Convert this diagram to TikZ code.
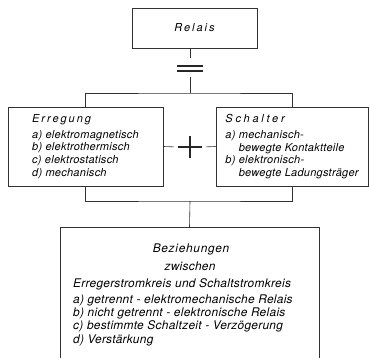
\documentclass[tikz,border=0pt]{standalone}
\usepackage{fontspec}
\setmainfont{TeX Gyre Heros}
\newfontfamily\grotesk[LetterSpace=2.5]{TeX Gyre Heros}
\newfontfamily\gesperrt[LetterSpace=18]{TeX Gyre Heros}
\newfontfamily\weitgesperrt[LetterSpace=25]{TeX Gyre Heros}
\newfontfamily\enggesperrt[LetterSpace=6]{TeX Gyre Heros}
\usetikzlibrary{positioning}
\tikzstyle{linie} = [line width=0.6pt, draw=black!80]
\tikzstyle{balken} = [line width=1.6pt, draw=black!85]
\tikzstyle{kasten} = [rectangle, draw=black!80, line width=0.6pt, inner sep=0pt, align=left]
\tikzstyle{gross} = [font=\grotesk\itshape\fontsize{11.9}{13.3}\selectfont]

\begin{document}
\begin{tikzpicture}[x=1pt, y=-1pt, every node/.style={font=\grotesk\itshape\fontsize{11}{12.7}\selectfont}]
        \useasboundingbox (0,0) rectangle (369,358);
        \node (relais) [kasten, minimum width=125pt, minimum height=40pt] at (194.5,28) {\gesperrt\itshape Relais};
        \node (gleich) [minimum width=26pt, minimum height=5pt, inner sep=0pt] at (190,68.5) {};
        \draw [balken] (gleich.north west) -- (gleich.north east);
        \draw [balken] (gleich.south west) -- (gleich.south east);
        \coordinate (oben) at (190,93);
        \node (erregung) [kasten, minimum width=155pt, minimum height=79pt] at (85.5,146.5)
            {{\gesperrt\itshape Erregung}\\[3.3pt]
             a) elektromagnetisch\\ b) elektrothermisch\\ c) elektrostatisch\\ d) mechanisch};
        \node (schalter) [kasten, minimum width=152pt, minimum height=79pt] at (292,146.5)
            {{\weitgesperrt\itshape Schalter}\\[3.3pt]
             a) mechanisch-\\ \hphantom{a) }bewegte Kontaktteile\\
             b) elektronisch-\\ \hphantom{b) }bewegte Ladungsträger};
        \node (kreuz) [minimum width=24pt, minimum height=21pt, inner sep=0pt] at (190,147) {};
        \draw [balken, line width=1.2pt] (kreuz.north) -- (kreuz.south) (kreuz.west) -- (kreuz.east);
        \coordinate (unten) at (190,201);
        \node (beziehungen) [kasten, minimum width=259pt, minimum height=145pt, anchor=north] at (189.5,227) {};
        \node (titel-1) [gross, anchor=base, inner sep=0pt] at (191,252.5) {\enggesperrt\itshape Beziehungen};
        \node (titel-2) [gross, anchor=base, inner sep=0pt] at (190,270.5) {zwischen};
        \node (liste-1) [gross, anchor=north west, inner sep=0pt, align=left] at (73,278.5)
            {Erregerstromkreis und Schaltstromkreis\\[2.5pt]
             a) getrennt - elektromechanische Relais\\
             b) nicht getrennt - elektronische Relais\\
             c) bestimmte Schaltzeit - Verzögerung\\
             d) Verstärkung};
        \draw [linie, shorten >=8pt] (relais.south -| gleich.north) -- (gleich.north);
        \draw [linie, shorten <=6pt] (gleich.south) -- (oben);
        \draw [linie] (erregung.north) |- (oben) -| (schalter.north);
        \draw [linie, shorten >=4pt] (erregung.east) -- (kreuz.west);
        \draw [linie, shorten >=4pt] (schalter.west) -- (kreuz.east);
        \draw [linie] (erregung.south) |- (unten) -| (schalter.south);
        \draw [linie] (unten) -- (beziehungen.north);
    \end{tikzpicture}
\end{document}
